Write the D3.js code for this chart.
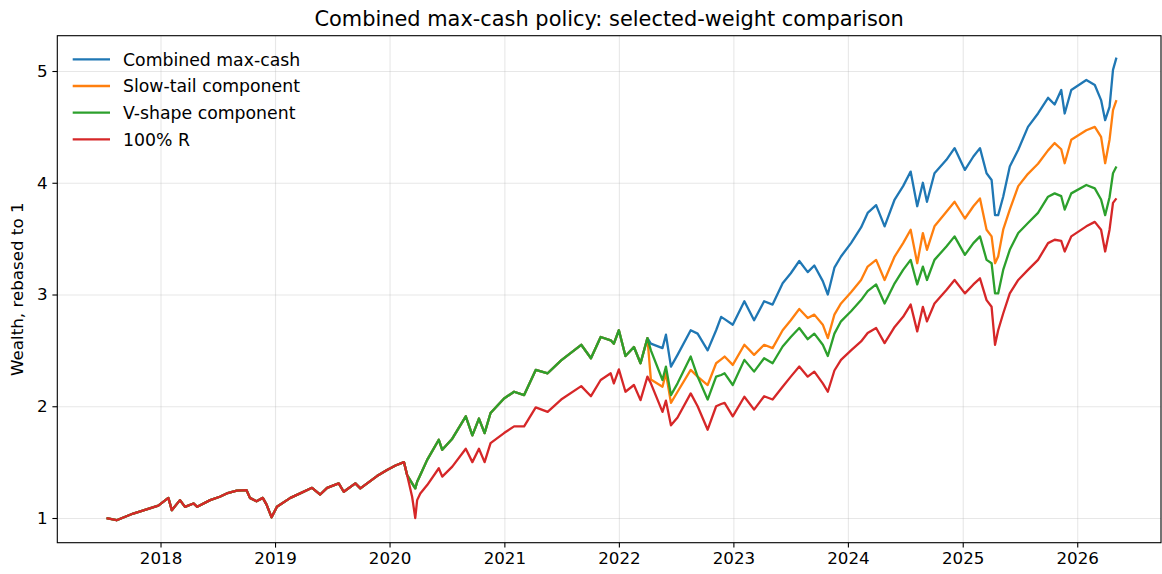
<!DOCTYPE html>
<html>
<head>
<meta charset="utf-8">
<script src="https://cdn.jsdelivr.net/npm/d3@7"></script>
<style>
  body { margin: 0; background: #fff; }
  text { font-family: "DejaVu Sans", sans-serif; fill: #000; }
</style>
</head>
<body>
<svg id="chart" width="1162" height="574"></svg>
<script>
// sample dates
var dates = [
  "2017-07-13","2017-08-14","2017-10-06","2017-12-25","2018-01-26","2018-02-06","2018-03-04","2018-03-20",
  "2018-04-16","2018-04-28","2018-06-08","2018-07-09","2018-07-31","2018-09-01","2018-10-02","2018-10-13",
  "2018-11-03","2018-11-23","2018-12-05","2018-12-21","2019-01-07","2019-02-19","2019-03-22","2019-04-29",
  "2019-05-25","2019-06-16","2019-07-23","2019-08-08","2019-09-14","2019-09-30","2019-11-22","2019-12-24",
  "2020-01-20","2020-02-16","2020-02-26",
  "2020-03-13","2020-03-23","2020-03-29","2020-04-08","2020-04-30","2020-06-06","2020-06-17","2020-07-19",
  "2020-08-31","2020-09-21","2020-10-12","2020-10-30","2020-11-18","2020-12-31","2021-02-01","2021-03-05",
  "2021-04-11","2021-05-19","2021-07-01","2021-09-03","2021-10-04","2021-11-04","2021-12-06","2021-12-16",
  "2022-01-01","2022-01-22","2022-02-18","2022-03-11","2022-04-02",
  "2022-04-13","2022-05-20","2022-05-31","2022-06-16","2022-07-07","2022-08-18","2022-09-09","2022-10-11",
  "2022-11-07","2022-11-23","2022-12-04","2022-12-30","2023-02-05","2023-03-08","2023-04-09","2023-05-06",
  "2023-06-07","2023-07-03","2023-07-30","2023-08-26","2023-09-16","2023-10-13","2023-10-29","2023-11-19",
  "2023-12-10","2024-01-11","2024-02-12","2024-03-04","2024-03-31","2024-04-27","2024-05-29","2024-06-25",
  "2024-07-19","2024-08-09","2024-08-27","2024-09-09","2024-10-03","2024-11-10","2024-12-06","2025-01-08",
  "2025-02-04","2025-02-25","2025-03-18","2025-04-03","2025-04-14","2025-04-24","2025-05-10","2025-05-31",
  "2025-06-27","2025-07-28","2025-08-29","2025-09-30","2025-10-21","2025-11-11","2025-11-22","2025-12-13",
  "2026-01-30","2026-02-26","2026-03-18","2026-03-31","2026-04-14","2026-04-25","2026-05-06"
];

// 100% R
var rWealth = [
  1.00,0.98,1.04,1.11,1.18,1.07,1.16,1.10,
  1.13,1.10,1.16,1.19,1.22,1.245,1.25,1.18,
  1.15,1.18,1.12,1.006,1.10,1.18,1.22,1.27,
  1.21,1.27,1.31,1.235,1.31,1.265,1.375,1.43,
  1.47,1.50,1.385,
  1.19,1.00,1.16,1.22,1.295,1.445,1.37,1.46,
  1.62,1.50,1.62,1.50,1.67,1.76,1.82,1.82,
  1.99,1.95,2.06,2.18,2.09,2.235,2.295,2.205,
  2.33,2.13,2.19,2.055,2.265,
  2.205,1.95,2.05,1.83,1.90,2.115,2.00,1.79,
  2.00,2.02,2.03,1.91,2.085,1.97,2.09,2.06,
  2.175,2.265,2.355,2.265,2.31,2.205,2.13,2.32,
  2.415,2.50,2.58,2.655,2.70,2.565,2.71,2.80,
  2.91,2.67,2.89,2.76,2.92,3.04,3.13,3.01,
  3.09,3.145,2.95,2.89,2.55,2.68,2.83,3.01,
  3.13,3.22,3.31,3.46,3.49,3.48,3.385,3.52,
  3.61,3.65,3.58,3.385,3.58,3.82,3.86
];

// V-shape component
var vWealth = [
  1.00,0.98,1.04,1.11,1.18,1.07,1.16,1.10,
  1.13,1.10,1.16,1.19,1.22,1.245,1.25,1.18,
  1.15,1.18,1.12,1.006,1.10,1.18,1.22,1.27,
  1.21,1.27,1.31,1.235,1.31,1.265,1.375,1.43,
  1.47,1.50,1.385,
  1.31,1.265,1.325,1.385,1.52,1.70,1.61,1.71,
  1.91,1.74,1.89,1.76,1.94,2.07,2.13,2.10,
  2.325,2.295,2.41,2.55,2.43,2.62,2.59,2.56,
  2.68,2.45,2.53,2.385,2.61,
  2.50,2.235,2.355,2.10,2.205,2.445,2.265,2.06,
  2.265,2.28,2.295,2.19,2.415,2.31,2.43,2.385,
  2.535,2.62,2.70,2.60,2.65,2.55,2.45,2.65,
  2.76,2.85,2.95,3.03,3.09,2.92,3.10,3.22,
  3.31,3.09,3.25,3.13,3.31,3.43,3.52,3.355,
  3.46,3.52,3.31,3.28,3.01,3.01,3.22,3.40,
  3.55,3.64,3.73,3.875,3.905,3.88,3.76,3.905,
  3.98,3.95,3.85,3.71,3.87,4.085,4.145
];

// Slow-tail component
var sWealth = [
  1.00,0.98,1.04,1.11,1.18,1.07,1.16,1.10,
  1.13,1.10,1.16,1.19,1.22,1.245,1.25,1.18,
  1.15,1.18,1.12,1.006,1.10,1.18,1.22,1.27,
  1.21,1.27,1.31,1.235,1.31,1.265,1.375,1.43,
  1.47,1.50,1.385,
  1.31,1.265,1.325,1.385,1.52,1.70,1.61,1.71,
  1.91,1.74,1.89,1.76,1.94,2.07,2.13,2.10,
  2.325,2.295,2.41,2.55,2.43,2.62,2.59,2.56,
  2.68,2.45,2.53,2.385,2.61,
  2.24,2.175,2.295,2.03,2.13,2.325,2.265,2.19,
  2.385,2.42,2.445,2.37,2.55,2.46,2.55,2.52,
  2.68,2.77,2.87,2.79,2.82,2.73,2.61,2.82,
  2.92,3.02,3.13,3.25,3.31,3.13,3.34,3.46,
  3.58,3.28,3.55,3.40,3.61,3.74,3.83,3.68,
  3.79,3.86,3.58,3.52,3.28,3.34,3.58,3.76,
  3.97,4.08,4.17,4.29,4.355,4.30,4.175,4.385,
  4.47,4.50,4.41,4.175,4.385,4.65,4.74
];

// Combined max-cash
var cWealth = [
  1.00,0.98,1.04,1.11,1.18,1.07,1.16,1.10,
  1.13,1.10,1.16,1.19,1.22,1.245,1.25,1.18,
  1.15,1.18,1.12,1.006,1.10,1.18,1.22,1.27,
  1.21,1.27,1.31,1.235,1.31,1.265,1.375,1.43,
  1.47,1.50,1.385,
  1.31,1.265,1.325,1.385,1.52,1.70,1.61,1.71,
  1.91,1.74,1.89,1.76,1.94,2.07,2.13,2.10,
  2.325,2.295,2.41,2.55,2.43,2.62,2.59,2.56,
  2.68,2.45,2.53,2.385,2.61,
  2.56,2.52,2.64,2.355,2.46,2.68,2.65,2.50,
  2.68,2.80,2.78,2.73,2.94,2.77,2.94,2.91,
  3.10,3.19,3.30,3.20,3.26,3.12,3.00,3.24,
  3.34,3.46,3.60,3.73,3.80,3.61,3.85,3.97,
  4.10,3.79,4.00,3.83,4.085,4.205,4.31,4.115,
  4.235,4.31,4.085,4.025,3.71,3.71,3.875,4.145,
  4.295,4.50,4.62,4.76,4.70,4.83,4.62,4.83,
  4.92,4.875,4.74,4.56,4.68,5.01,5.12
];

var seriesNames = ["Combined max-cash", "Slow-tail component", "V-shape component", "100% R"];
var seriesColors = ["#1f77b4", "#ff7f0e", "#2ca02c", "#d62728"];
var yTicks = [1, 2, 3, 4, 5];

var svg = d3.select("#chart");
var margin = {left: 57.3, top: 35.7, right: 1, bottom: 31.3};
var W = 1162, H = 574;
var pw = W - margin.left - margin.right, ph = H - margin.top - margin.bottom;

var parse = d3.timeParse("%Y-%m-%d");
var xDates = dates.map(parse);

var x = d3.scaleTime()
  .domain([new Date(2017, 1, 6), new Date(2026, 8, 25)])
  .range([0, pw]);
var y = d3.scaleLinear()
  .domain([0.779, 5.316])
  .range([ph, 0]);

var g = svg.append("g").attr("transform", "translate(" + margin.left + "," + margin.top + ")");

// grid
g.append("g").attr("class", "grid")
  .attr("transform", "translate(0," + ph + ")")
  .call(d3.axisBottom(x).ticks(d3.timeYear.every(1)).tickSize(-ph).tickFormat(""))
g.append("g").attr("class", "grid")
  .call(d3.axisLeft(y).tickValues(yTicks).tickSize(-pw).tickFormat(""))
g.selectAll(".grid .domain").remove()
g.selectAll(".grid line").attr("stroke", "#b0b0b0").attr("stroke-opacity", 0.3).attr("stroke-width", 1.1)

// lines
var allSeries = [cWealth, sWealth, vWealth, rWealth];
var line = d3.line()
  .x(function(d, i){ return x(xDates[i]); })
  .y(function(d){ return y(d); });

g.selectAll("path.series")
  .data(allSeries)
  .enter().append("path")
  .attr("class", "series")
  .attr("d", line)
  .attr("fill", "none")
  .attr("stroke", function(d, i){ return seriesColors[i]; })
  .attr("stroke-width", 2.3)
  .attr("stroke-linejoin", "round")

// axes
var xAxis = g.append("g")
  .attr("transform", "translate(0," + ph + ")")
  .call(d3.axisBottom(x).ticks(d3.timeYear.every(1)).tickFormat(d3.timeFormat("%Y")).tickSize(4.9).tickPadding(4.9))
var yAxis = g.append("g")
  .call(d3.axisLeft(y).tickValues(yTicks).tickFormat(d3.format("d")).tickSize(4.9).tickPadding(4.9))
svg.selectAll(".domain").remove()
xAxis.selectAll("text").style("font-size", "16.7px").attr("fill", "#000")
yAxis.selectAll("text").style("font-size", "16.7px").attr("fill", "#000")
xAxis.selectAll(".tick line").attr("stroke", "#000").attr("stroke-width", 1.1)
yAxis.selectAll(".tick line").attr("stroke", "#000").attr("stroke-width", 1.1)

// frame
g.append("rect")
  .attr("width", pw).attr("height", ph)
  .attr("fill", "none").attr("stroke", "#000").attr("stroke-width", 1.1)

// title and labels
svg.append("text")
  .attr("x", margin.left + pw / 2).attr("y", 26)
  .attr("text-anchor", "middle")
  .style("font-size", "20.9px")
  .text("Combined max-cash policy: selected-weight comparison")

svg.append("text")
  .attr("transform", "translate(23," + (margin.top + ph / 2) + ") rotate(-90)")
  .attr("text-anchor", "middle")
  .style("font-size", "16.7px")
  .text("Wealth, rebased to 1")

// legend
var legend = g.selectAll("g.legend-item")
  .data(seriesNames)
  .enter().append("g")
  .attr("class", "legend-item")
  .attr("transform", function(d, i){ return "translate(0," + (23.6 + i * 26.7) + ")"; })

legend.append("line")
  .attr("x1", 15.4).attr("x2", 52.7)
  .attr("stroke", function(d, i){ return seriesColors[i]; })
  .attr("stroke-width", 2.3)

legend.append("text")
  .attr("x", 65.7).attr("y", 0)
  .attr("dy", "0.36em")
  .style("font-size", "17.3px")
  .text(function(d){ return d; })
</script>
</body>
</html>
